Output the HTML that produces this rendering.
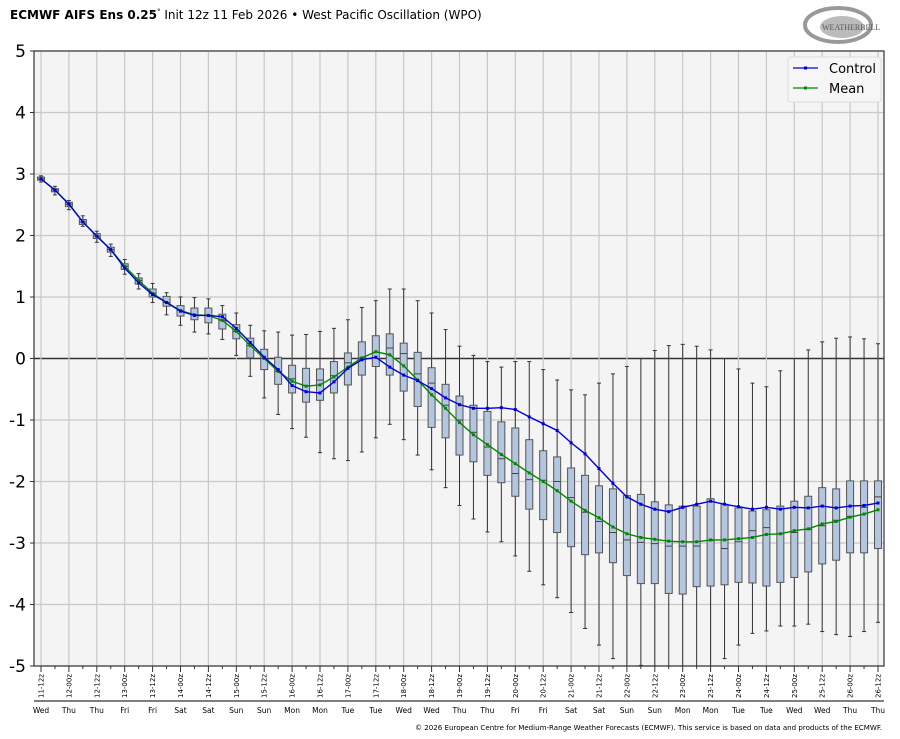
<!DOCTYPE html>
<html><head><meta charset="utf-8"><style>
body{margin:0;background:#fff;font-family:"DejaVu Sans","Liberation Sans",sans-serif;}
svg{display:block}
</style></head><body>
<svg id="chart" width="900" height="739" xmlns="http://www.w3.org/2000/svg">
<text x="10" y="19" font-size="12" font-family="DejaVu Sans,sans-serif"><tspan font-weight="bold">ECMWF AIFS Ens 0.25</tspan><tspan font-size="7" dy="-5">°</tspan><tspan dy="5"> Init 12z 11 Feb 2026 • West Pacific Oscillation (WPO)</tspan></text>
<g>
<ellipse cx="838" cy="25" rx="33" ry="17" fill="none" stroke="#999" stroke-width="4"/>
<ellipse cx="842" cy="27" rx="22" ry="11" fill="#bbb"/>
<text x="822" y="30" font-size="8" fill="#555" font-family="Liberation Serif,serif">WEATHERBELL</text>
</g>
<rect x="34" y="51" width="850" height="615" fill="#f4f4f4"/>
<g id="grid"></g>
<g id="marks"></g>
<rect x="34" y="51" width="850" height="615" fill="none" stroke="#333" stroke-width="1.2"/>
<g id="axes"></g>
<g>
<rect x="788" y="57" width="93" height="45" rx="3" fill="#f6f6f6" stroke="#ddd"/>
<line x1="793" y1="68" x2="818" y2="68" stroke="#0000dd" stroke-width="1.3"/><rect x="804" y="66.5" width="3" height="3" fill="#0000dd"/>
<text x="829" y="73" font-size="13">Control</text>
<line x1="793" y1="88" x2="818" y2="88" stroke="#008800" stroke-width="1.3"/><rect x="804" y="86.5" width="3" height="3" fill="#008800"/>
<text x="829" y="93" font-size="13">Mean</text>
</g>
<line x1="34" y1="701" x2="884" y2="701" stroke="#333" stroke-width="1.2"/>
<text x="882" y="730" font-size="7" text-anchor="end" textLength="467" lengthAdjust="spacingAndGlyphs">© 2026 European Centre for Medium-Range Weather Forecasts (ECMWF). This service is based on data and products of the ECMWF.</text>
</svg>
<script>
const controlVals=[2.92,2.74,2.51,2.22,1.99,1.77,1.47,1.23,1.04,0.91,0.77,0.70,0.70,0.68,0.49,0.26,0.02,-0.18,-0.44,-0.54,-0.56,-0.38,-0.16,-0.02,0.02,-0.14,-0.27,-0.36,-0.49,-0.64,-0.75,-0.81,-0.81,-0.80,-0.83,-0.95,-1.06,-1.17,-1.37,-1.55,-1.79,-2.03,-2.25,-2.37,-2.45,-2.49,-2.42,-2.37,-2.32,-2.37,-2.41,-2.45,-2.42,-2.45,-2.42,-2.43,-2.40,-2.43,-2.40,-2.39,-2.35];
const meanVals=[2.92,2.74,2.51,2.22,1.99,1.77,1.50,1.27,1.06,0.91,0.78,0.71,0.70,0.62,0.44,0.21,0.0,-0.21,-0.37,-0.45,-0.43,-0.30,-0.14,0.01,0.11,0.06,-0.12,-0.35,-0.59,-0.81,-1.04,-1.24,-1.40,-1.56,-1.71,-1.86,-2.00,-2.15,-2.32,-2.47,-2.59,-2.74,-2.85,-2.91,-2.94,-2.97,-2.98,-2.98,-2.95,-2.95,-2.93,-2.91,-2.86,-2.85,-2.80,-2.77,-2.69,-2.65,-2.58,-2.53,-2.46];
const whiskerMax=[2.97,2.80,2.57,2.32,2.07,1.86,1.61,1.38,1.22,1.07,1.00,0.99,0.97,0.86,0.74,0.54,0.45,0.43,0.38,0.39,0.44,0.49,0.63,0.83,0.94,1.13,1.13,0.94,0.74,0.47,0.20,0.05,-0.05,-0.14,-0.05,-0.05,-0.18,-0.35,-0.51,-0.59,-0.40,-0.25,-0.13,0.0,0.13,0.21,0.23,0.20,0.14,0.0,-0.17,-0.40,-0.46,-0.20,0.0,0.14,0.27,0.33,0.35,0.32,0.24];
const q3Vals=[2.95,2.76,2.54,2.26,2.03,1.81,1.54,1.31,1.13,1.01,0.86,0.82,0.82,0.72,0.55,0.33,0.15,0.02,-0.11,-0.16,-0.17,-0.05,0.09,0.27,0.37,0.40,0.25,0.10,-0.15,-0.42,-0.61,-0.76,-0.86,-1.03,-1.13,-1.32,-1.50,-1.60,-1.78,-1.90,-2.07,-2.12,-2.23,-2.21,-2.33,-2.38,-2.40,-2.40,-2.28,-2.37,-2.43,-2.48,-2.46,-2.40,-2.32,-2.24,-2.10,-2.12,-1.99,-1.99,-1.99];
const medianVals=[2.92,2.74,2.51,2.22,1.99,1.77,1.50,1.27,1.06,0.91,0.78,0.71,0.70,0.62,0.44,0.21,0.0,-0.21,-0.33,-0.44,-0.35,-0.28,-0.07,0.01,0.10,0.17,0.08,-0.25,-0.40,-0.76,-1.00,-1.20,-1.44,-1.63,-1.87,-1.97,-1.98,-2.00,-2.26,-2.50,-2.65,-2.83,-2.95,-2.99,-3.01,-3.05,-3.05,-3.05,-2.96,-3.09,-2.98,-2.80,-2.75,-2.85,-2.83,-2.78,-2.72,-2.63,-2.57,-2.42,-2.25];
const q1Vals=[2.90,2.71,2.47,2.18,1.95,1.73,1.45,1.21,1.00,0.85,0.69,0.63,0.58,0.48,0.32,0.01,-0.18,-0.42,-0.56,-0.71,-0.68,-0.56,-0.43,-0.27,-0.13,-0.27,-0.53,-0.78,-1.12,-1.29,-1.57,-1.68,-1.90,-2.02,-2.24,-2.45,-2.62,-2.83,-3.06,-3.19,-3.16,-3.32,-3.53,-3.66,-3.66,-3.82,-3.83,-3.71,-3.70,-3.68,-3.64,-3.65,-3.70,-3.64,-3.56,-3.47,-3.34,-3.28,-3.16,-3.16,-3.09];
const whiskerMin=[2.87,2.66,2.42,2.15,1.89,1.66,1.37,1.13,0.91,0.71,0.54,0.43,0.40,0.31,0.05,-0.29,-0.64,-0.91,-1.14,-1.28,-1.53,-1.63,-1.66,-1.52,-1.29,-1.07,-1.32,-1.57,-1.81,-2.10,-2.39,-2.61,-2.82,-2.98,-3.21,-3.46,-3.68,-3.89,-4.13,-4.39,-4.66,-4.88,-5.0,-4.99,-5.0,-5.0,-5.0,-5.0,-5.0,-4.88,-4.66,-4.47,-4.43,-4.35,-4.35,-4.32,-4.44,-4.49,-4.52,-4.44,-4.29];
const yTicks=[5,4,3,2,1,0,-1,-2,-3,-4,-5];
const xLabels=["11-12z","12-00z","12-12z","13-00z","13-12z","14-00z","14-12z","15-00z","15-12z","16-00z","16-12z","17-00z","17-12z","18-00z","18-12z","19-00z","19-12z","20-00z","20-12z","21-00z","21-12z","22-00z","22-12z","23-00z","23-12z","24-00z","24-12z","25-00z","25-12z","26-00z","26-12z"];
const dayLabels=["Wed","Thu","Thu","Fri","Fri","Sat","Sat","Sun","Sun","Mon","Mon","Tue","Tue","Wed","Wed","Thu","Thu","Fri","Fri","Sat","Sat","Sun","Sun","Mon","Mon","Tue","Tue","Wed","Wed","Thu","Thu"];

const NS="http://www.w3.org/2000/svg";
const n=controlVals.length;
function xs(i){return 41+i*(878-41)/(n-1);}
function ys(v){return 358.5-v*61.5;}
function mk(parent,tag,attrs){const e=document.createElementNS(NS,tag);for(const k in attrs)e.setAttribute(k,attrs[k]);parent.appendChild(e);return e;}
const grid=document.getElementById('grid'),marks=document.getElementById('marks'),axes=document.getElementById('axes');
yTicks.forEach(v=>{
  const l=mk(grid,'line',{x1:34,x2:884,y1:ys(v),y2:ys(v),stroke:v===0?'#333':'#c8c8c8','stroke-width':v===0?1.5:1.2});
  
  
  const t=mk(axes,'text',{x:26,y:ys(v)+6,'font-size':17,'text-anchor':'end'});
  t.textContent=String(v);
  
  
  mk(axes,'line',{x1:30,x2:34,y1:ys(v),y2:ys(v),stroke:'#333'});
});
xLabels.forEach((lab,j)=>{
  const x=xs(j*2);
  const g=mk(grid,'line',{x1:x,x2:x,y1:51,y2:666,stroke:'#c8c8c8','stroke-width':1.2});
  
  
  mk(axes,'line',{x1:x,x2:x,y1:666,y2:672,stroke:'#333'});
  const t=mk(axes,'text',{x:0,y:0,'font-size':7,'text-anchor':'end',transform:`translate(${x+2.5},674) rotate(-90)`});
  t.textContent=lab;
  
  
  const d=mk(axes,'text',{x:x,y:713,'font-size':7.5,'text-anchor':'middle'});
  d.textContent=dayLabels[j];
  
  
  if(j<xLabels.length-1){mk(axes,'line',{x1:xs(j*2+1),x2:xs(j*2+1),y1:666,y2:669,stroke:'#333'});}
});
for(let i=0;i<n;i++){
  const x=xs(i),w=7;
  const g=mk(marks,'g',{});
  
  
  mk(g,'line',{x1:x,x2:x,y1:ys(whiskerMax[i]),y2:ys(whiskerMin[i]),stroke:'#333','stroke-width':1});
  mk(g,'line',{x1:x-2,x2:x+2,y1:ys(whiskerMax[i]),y2:ys(whiskerMax[i]),stroke:'#333'});
  mk(g,'line',{x1:x-2,x2:x+2,y1:ys(whiskerMin[i]),y2:ys(whiskerMin[i]),stroke:'#333'});
  const top=ys(q3Vals[i]),bot=ys(q1Vals[i]);
  mk(g,'rect',{x:x-w/2,y:top,width:w,height:Math.max(1,bot-top),fill:'#b4c6df',stroke:'#555','stroke-width':1});
  mk(g,'line',{x1:x-w/2,x2:x+w/2,y1:ys(medianVals[i]),y2:ys(medianVals[i]),stroke:'#444','stroke-width':1});
}
function series(vals,color,name){
  const p=mk(marks,'polyline',{points:vals.map((v,i)=>xs(i)+','+ys(v)).join(' '),fill:'none',stroke:color,'stroke-width':1.4});
  
  
  vals.forEach((v,i)=>{
    const r=mk(marks,'rect',{x:xs(i)-1.5,y:ys(v)-1.5,width:3,height:3,fill:color});
    
    
  });
}
series(meanVals,'#008800','mean');
series(controlVals,'#0000dd','control');
</script>
</body></html>
